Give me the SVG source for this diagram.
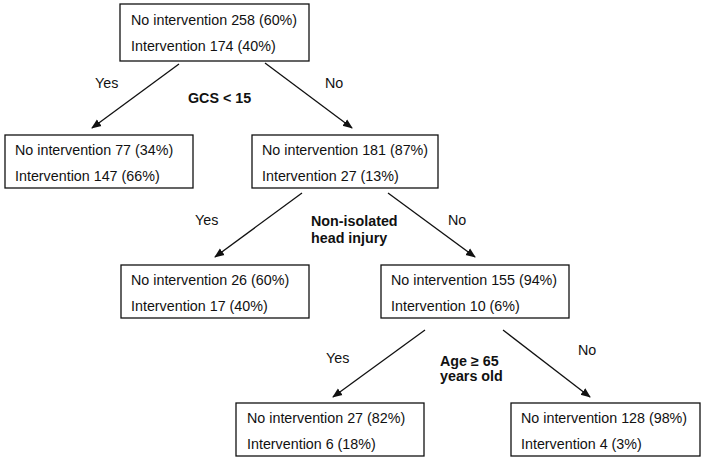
<svg xmlns="http://www.w3.org/2000/svg" width="704" height="461" viewBox="0 0 704 461">
<style>
text{font-family:"Liberation Sans",Arial,sans-serif;font-size:14.3px;fill:#111}
.b{font-weight:bold}
.box{fill:#fff;stroke:#111;stroke-width:1.3}
line{stroke:#111;stroke-width:1.3}
</style>
<defs>
<marker id="ah" viewBox="0 0 10 10" refX="9" refY="5" markerWidth="10" markerHeight="10" markerUnits="userSpaceOnUse" orient="auto">
<path d="M0,1 L10,5 L0,9 z" fill="#111"/>
</marker>
</defs>
<rect width="704" height="461" fill="#fff"/>
<g id="connectors">
<line x1="179" y1="64" x2="92" y2="128" marker-end="url(#ah)"/>
<line x1="265" y1="63" x2="352" y2="128" marker-end="url(#ah)"/>
<line x1="302" y1="193" x2="215" y2="257" marker-end="url(#ah)"/>
<line x1="388" y1="193" x2="475" y2="257" marker-end="url(#ah)"/>
<line x1="425" y1="330" x2="333" y2="397" marker-end="url(#ah)"/>
<line x1="503" y1="330" x2="590" y2="397" marker-end="url(#ah)"/>
</g>
<g id="labels">
<text x="95" y="88">Yes</text>
<text x="325" y="88">No</text>
<text class="b" x="188" y="103">GCS &lt; 15</text>
<text x="195" y="225">Yes</text>
<text x="448" y="225">No</text>
<text class="b" x="311" y="226">Non-isolated</text>
<text class="b" x="311" y="243">head injury</text>
<text x="326" y="363">Yes</text>
<text x="578" y="355">No</text>
<text class="b" x="440" y="366">Age ≥ 65</text>
<text class="b" x="440" y="381">years old</text>
</g>
<g id="root">
<rect class="box" x="120" y="4" width="189" height="57"/>
<text x="131" y="25">No intervention 258 (60%)</text>
<text x="131" y="51">Intervention 174 (40%)</text>
</g>
<g id="gcs-yes">
<rect class="box" x="5" y="135" width="188" height="53"/>
<text x="15" y="155">No intervention 77 (34%)</text>
<text x="15" y="181">Intervention 147 (66%)</text>
</g>
<g id="gcs-no">
<rect class="box" x="252" y="135" width="186" height="53"/>
<text x="262" y="155">No intervention 181 (87%)</text>
<text x="262" y="181">Intervention 27 (13%)</text>
</g>
<g id="head-yes">
<rect class="box" x="121" y="265" width="188" height="53"/>
<text x="131" y="285">No intervention 26 (60%)</text>
<text x="131" y="311">Intervention 17 (40%)</text>
</g>
<g id="head-no">
<rect class="box" x="381" y="265" width="188" height="53"/>
<text x="391" y="285">No intervention 155 (94%)</text>
<text x="391" y="311">Intervention 10 (6%)</text>
</g>
<g id="age-yes">
<rect class="box" x="236" y="403" width="188" height="53"/>
<text x="247" y="423">No intervention 27 (82%)</text>
<text x="247" y="449">Intervention 6 (18%)</text>
</g>
<g id="age-no">
<rect class="box" x="511" y="403" width="189" height="53"/>
<text x="521" y="423">No intervention 128 (98%)</text>
<text x="521" y="449">Intervention 4 (3%)</text>
</g>
</svg>
